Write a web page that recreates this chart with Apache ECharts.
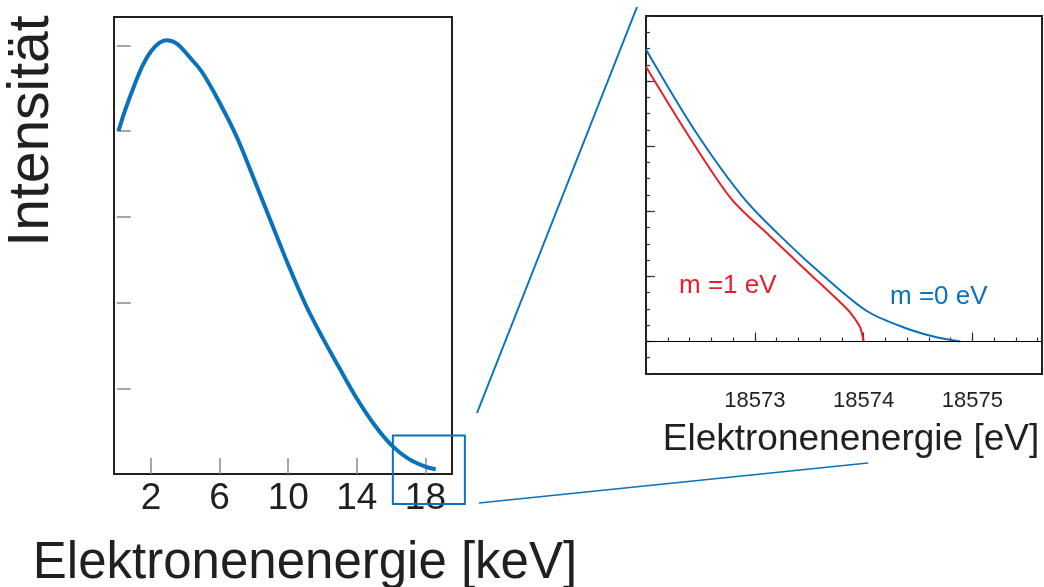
<!DOCTYPE html>
<html>
<head>
<meta charset="utf-8">
<title>Beta-Spektrum</title>
<script src="https://cdn.jsdelivr.net/npm/echarts@6/dist/echarts.min.js"></script>
<style>
  html, body { margin: 0; padding: 0; background: #fff; }
  #chart { width: 1044px; height: 587px; }
</style>
</head>
<body>
<div id="chart"></div>
<script>
// full spectrum (keV, arbitrary units)
var spectrumX = [0.1, 0.5, 1, 1.5, 2, 2.5, 2.9, 3.5, 4.3, 5, 6, 7, 8, 9, 10, 11, 12, 13, 14, 15, 16, 17, 18, 18.6];
var spectrumY = [4.0, 4.25, 4.52, 4.76, 4.93, 5.03, 5.06, 5.02, 4.85, 4.68, 4.33, 3.93, 3.44, 2.94, 2.44, 1.98, 1.59, 1.23, 0.88, 0.58, 0.34, 0.18, 0.085, 0.055];
var spectrumTicks = [2, 6, 10, 14, 18];
var intensityTicks = [1, 2, 3, 4, 5];

// endpoint region (eV)
var m0X = [18572, 18572.45, 18572.91, 18573.3, 18573.6, 18574.03, 18574.37, 18574.68, 18574.89];
var m0Y = [17.94, 12.95, 8.71, 6.06, 4.22, 1.87, 0.86, 0.24, 0];
var m1X = [18572, 18572.4, 18572.79, 18573.14, 18573.48, 18573.85, 18573.93, 18573.97, 18574.0];
var m1Y = [16.88, 12.55, 8.71, 6.47, 4.32, 1.98, 1.3, 0.85, 0];
var endpointTicks = [18573, 18574, 18575];
var endpointMajorY = [0, 4, 8, 12, 16];

// zoom window drawn on the full spectrum
var zoomBoxX = [16.1, 20.3];
var zoomBoxY = [-0.35, 0.45];

var blue = "#0a72ba";
var red = "#e8202a";
var ink = "#231f20";
var font = "Liberation Sans, Arial, sans-serif";

function pairs(xs, ys) {
  return xs.map(function(x, i) { return [x, ys[i]]; });
}

var chart = echarts.init(document.getElementById("chart"));

chart.setOption({
  animation: false,
  textStyle: { fontFamily: font },
  grid: [
    { left: 114, top: 17, width: 338, height: 457, show: true, borderColor: ink, borderWidth: 2 },
    { left: 646, top: 16, width: 396, height: 358, show: true, borderColor: ink, borderWidth: 2 }
  ],
  xAxis: [
    {
      type: "value", gridIndex: 0, min: -0.16, max: 19.55,
      axisLine: { show: false },
      splitLine: { show: false },
      axisTick: { inside: true, length: 16, customValues: spectrumTicks, lineStyle: { color: "#8a8a8a", width: 1.5 } },
      axisLabel: { customValues: spectrumTicks, fontSize: 37, color: ink, margin: 6, fontFamily: font }
    },
    {
      type: "value", gridIndex: 1, position: "bottom", min: 18572, max: 18575.64, interval: 0.2,
      axisLine: { show: false },
      splitLine: { show: false },
      axisTick: { inside: true, length: 4, lineStyle: { color: "#333", width: 1.2 } },
      axisLabel: { show: false }
    },
    {
      type: "value", gridIndex: 1, position: "bottom", min: 18572, max: 18575.64,
      axisLine: { show: false },
      splitLine: { show: false },
      axisTick: { inside: true, length: 9, customValues: endpointTicks, lineStyle: { color: "#333", width: 1.2 } },
      axisLabel: {
        customValues: endpointTicks, fontSize: 22, color: ink, margin: 16, fontFamily: font,
        formatter: function(v) { return String(v); }
      }
    }
  ],
  yAxis: [
    {
      type: "value", gridIndex: 0, min: 0, max: 5.33,
      axisLine: { show: false },
      splitLine: { show: false },
      axisTick: { inside: true, length: 14, customValues: intensityTicks, lineStyle: { color: "#8a8a8a", width: 1.5 } },
      axisLabel: { show: false }
    },
    {
      type: "value", gridIndex: 1, min: -2, max: 20, interval: 1,
      axisLine: { show: false },
      splitLine: { show: false },
      axisTick: { inside: true, length: 4, lineStyle: { color: "#333", width: 1.2 } },
      axisLabel: { show: false }
    },
    {
      type: "value", gridIndex: 1, position: "left", min: -2, max: 20,
      axisLine: { show: false },
      splitLine: { show: false },
      axisTick: { inside: true, length: 9, customValues: endpointMajorY, lineStyle: { color: "#333", width: 1.2 } },
      axisLabel: { show: false }
    }
  ],
  series: [
    {
      type: "line", xAxisIndex: 0, yAxisIndex: 0,
      data: pairs(spectrumX, spectrumY),
      smooth: 0.35, showSymbol: false,
      lineStyle: { color: blue, width: 4 }
    },
    {
      type: "line", xAxisIndex: 1, yAxisIndex: 1,
      data: pairs(m0X, m0Y),
      smooth: 0.3, showSymbol: false,
      lineStyle: { color: blue, width: 2 },
      markLine: {
        silent: true, symbol: "none", label: { show: false },
        lineStyle: { color: "#000", width: 1, type: "solid" },
        data: [{ yAxis: 0 }]
      }
    },
    {
      type: "line", xAxisIndex: 1, yAxisIndex: 1,
      data: pairs(m1X, m1Y),
      smooth: 0.3, showSymbol: false,
      lineStyle: { color: red, width: 2 }
    }
  ]
});

// zoom rectangle from data coordinates, then the annotations
var boxA = chart.convertToPixel({ gridIndex: 0 }, [zoomBoxX[0], zoomBoxY[1]]);
var boxB = chart.convertToPixel({ gridIndex: 0 }, [zoomBoxX[1], zoomBoxY[0]]);

chart.setOption({
  graphic: [
    {
      type: "rect", z: 100,
      shape: { x: boxA[0], y: boxA[1], width: boxB[0] - boxA[0], height: boxB[1] - boxA[1] },
      style: { fill: null, stroke: blue, lineWidth: 2 }
    },
    { type: "line", z: 100, shape: { x1: 477, y1: 413, x2: 637, y2: 7 }, style: { stroke: blue, lineWidth: 2 } },
    { type: "line", z: 100, shape: { x1: 479, y1: 503, x2: 868, y2: 463 }, style: { stroke: blue, lineWidth: 1.6 } },
    {
      type: "text", x: 32, y: 131, rotation: Math.PI / 2,
      style: { text: "Intensität", font: "57px " + font, fill: ink, align: "center", verticalAlign: "middle" }
    },
    {
      type: "text", x: 305, y: 564,
      style: { text: "Elektronenenergie [keV]", font: "51px " + font, fill: ink, align: "center", verticalAlign: "middle" }
    },
    {
      type: "text", x: 851, y: 440,
      style: { text: "Elektronenenergie [eV]", font: "37px " + font, fill: ink, align: "center", verticalAlign: "middle" }
    },
    {
      type: "text", x: 679, y: 286,
      style: { text: "m =1 eV", font: "26px " + font, fill: red, align: "left", verticalAlign: "middle" }
    },
    {
      type: "text", x: 890, y: 297,
      style: { text: "m =0 eV", font: "26px " + font, fill: blue, align: "left", verticalAlign: "middle" }
    }
  ]
});
</script>
</body>
</html>
